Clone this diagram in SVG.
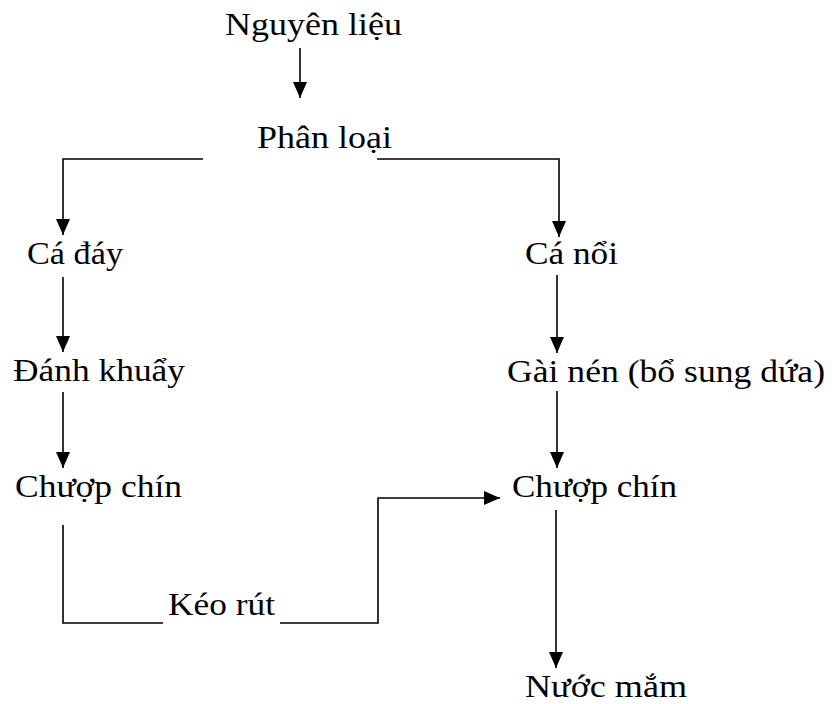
<svg xmlns="http://www.w3.org/2000/svg" width="832" height="704" viewBox="0 0 832 704">
  <style>
    .lbl { font-family: "Liberation Serif", "Times New Roman", serif; font-size: 31px; fill: #000; }
    .edge { fill: none; stroke: #000; stroke-width: 1.6; }
  </style>
  <defs>
    <marker id="arrow" viewBox="0 0 16 14" refX="16" refY="7" markerWidth="16" markerHeight="14" markerUnits="userSpaceOnUse" orient="auto">
      <path d="M0,0 L16,7 L0,14 z" fill="#000"/>
    </marker>
  </defs>
  <rect width="832" height="704" fill="#fff"/>

  <!-- connectors -->
  <g id="connectors">
    <line class="edge" x1="300" y1="48" x2="300" y2="98" marker-end="url(#arrow)"/>
    <polyline class="edge" points="203,159 63,159 63,235" marker-end="url(#arrow)"/>
    <polyline class="edge" points="377,159 559,159 559,237" marker-end="url(#arrow)"/>
    <line class="edge" x1="63" y1="277" x2="63" y2="352" marker-end="url(#arrow)"/>
    <line class="edge" x1="63" y1="392" x2="63" y2="468" marker-end="url(#arrow)"/>
    <line class="edge" x1="557" y1="275" x2="557" y2="353" marker-end="url(#arrow)"/>
    <line class="edge" x1="557" y1="391" x2="557" y2="468" marker-end="url(#arrow)"/>
    <polyline class="edge" points="63,525 63,623 163,623"/>
    <polyline class="edge" points="280,623 378,623 378,498 500,498" marker-end="url(#arrow)"/>
    <line class="edge" x1="556" y1="510" x2="556" y2="668" marker-end="url(#arrow)"/>
  </g>

  <!-- nodes -->
  <g id="nguyen-lieu"><text class="lbl" x="225" y="35" textLength="177" lengthAdjust="spacingAndGlyphs">Nguyên liệu</text></g>
  <g id="phan-loai"><text class="lbl" x="257" y="148" textLength="135" lengthAdjust="spacingAndGlyphs">Phân loại</text></g>
  <g id="ca-day"><text class="lbl" x="27" y="264" textLength="96" lengthAdjust="spacingAndGlyphs">Cá đáy</text></g>
  <g id="ca-noi"><text class="lbl" x="525" y="264" textLength="93" lengthAdjust="spacingAndGlyphs">Cá nổi</text></g>
  <g id="danh-khuay"><text class="lbl" x="13" y="381" textLength="172" lengthAdjust="spacingAndGlyphs">Đánh khuẩy</text></g>
  <g id="gai-nen"><text class="lbl" x="507" y="382" textLength="318" lengthAdjust="spacingAndGlyphs">Gài nén (bổ sung dứa)</text></g>
  <g id="chuop-chin-trai"><text class="lbl" x="15" y="497" textLength="167" lengthAdjust="spacingAndGlyphs">Chượp chín</text></g>
  <g id="chuop-chin-phai"><text class="lbl" x="512" y="497" textLength="165" lengthAdjust="spacingAndGlyphs">Chượp chín</text></g>
  <g id="keo-rut"><text class="lbl" x="168" y="615" textLength="107" lengthAdjust="spacingAndGlyphs">Kéo rút</text></g>
  <g id="nuoc-mam"><text class="lbl" x="525" y="697" textLength="162" lengthAdjust="spacingAndGlyphs">Nước mắm</text></g>
</svg>
